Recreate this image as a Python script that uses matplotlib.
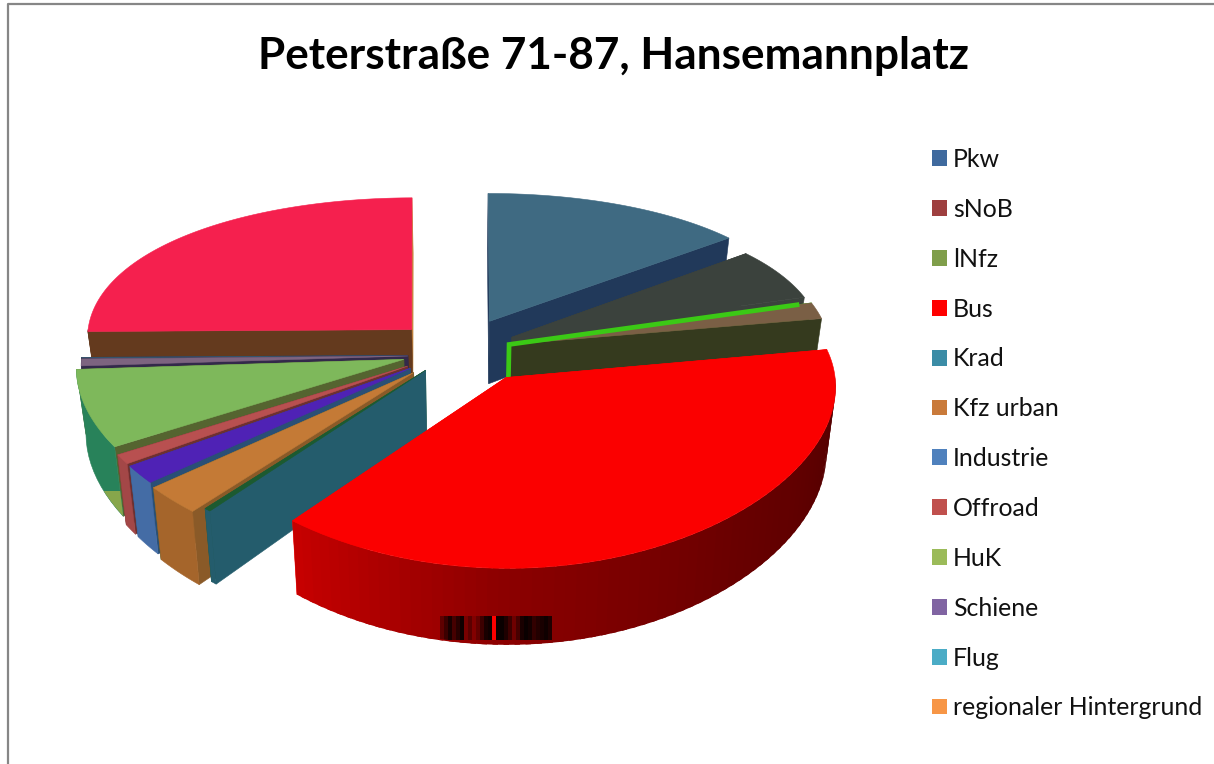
import numpy as np
import matplotlib
matplotlib.use('Agg')
import matplotlib.pyplot as plt
from matplotlib.colors import LinearSegmentedColormap
from matplotlib.patches import Patch, Polygon, Rectangle

plt.rcParams['font.family'] = ['Lato', 'DejaVu Sans']

title = 'Peterstraße 71-87, Hansemannplatz'
labels = ['Pkw', 'sNoB', 'lNfz', 'Bus', 'Krad', 'Kfz urban', 'Industrie',
          'Offroad', 'HuK', 'Schiene', 'Flug', 'regionaler Hintergrund']
values = [14.3, 6.1, 1.8, 38.6, 0.3, 2.7, 1.7, 0.9, 7.6, 0.7, 0.1, 25.1]
explode = [0.21, 0.18, 0.155, 0.215, 0.165, 0.2, 0.19, 0.19, 0.18, 0.16, 0.16, 0.2]

legend_colors = ['#3F6A9E', '#9E3F3F', '#7F9E4A', '#FF0000', '#3B8CA6', '#C97A3A',
                 '#4F81BD', '#C0504D', '#9BBB59', '#8064A2', '#4BACC6', '#F79646']
top_colors = ['#3F6A82', '#3B423D', '#7A5F45', '#FB0000', '#1C5A30', '#C47A36',
              '#4F22B5', '#B85050', '#7EB85B', '#7D6480', '#35566E', '#F5204E']
start_colors = ['#21395A', '#3B423D', '#3BC915', '#FB0000', '#245C6C', '#8A5A28',
                '#2A4F76', '#6E3030', '#556430', '#33294A', '#33294A', '#643A1E']
end_colors = ['#21395A', '#3B423D', '#353A1E', '#FB0000', '#1C5A30', '#1C5A30',
              '#2A4F76', '#6E3030', '#556430', '#33294A', '#33294A', '#C98A3F']
rim_colors = ['#21395A', '#3B423D', '#353A1E', None, '#245C6C', '#A5652B',
              '#446CA5', '#A34747', '#28825A', '#33294A', '#33294A', '#643A1E']
draw_order = [11, 10, 9, 8, 7, 6, 5, 4, 0, 1, 2, 3]
bus_rim = LinearSegmentedColormap.from_list(
    'bus', [(0, '#520000'), (0.35, '#680000'), (0.7, '#8C0000'), (1, '#C80000')])
glitch_levels = [95, 60, 25, 70, 40, 15, 120, 90, 130, 100, 60, 25, 15, 255, 15, 10,
                 30, 60, 110, 70, 25, 10, 20, 50, 35, 25, 15, 30]

# small per slice corrections, the original perspective is not a clean one
radius = [0.98, 0.955, 0.985, 1, 1, 1, 1, 1, 1, 1, 1, 1]
shift_x = [0, 0, 0, 10, 0, 0, 0, 0, 0, 0, 0, -2]
shift_y = [0, 0, 0, -2, 0, 0, 0, 0, 1, 5, 5, 1]

CX, CY = 460, 350
A, B = 326, 155.5
K = 0.138
KX = 0.05
DEPTH = 64


def project(x, y, z=0.0, i=0):
    s = 1 / (1 + K * y)
    sx = 1 / (1 + KX * y)
    return (CX + shift_x[i] + A * x * sx * (1 - 0.025 * z),
            CY + shift_y[i] - B * y * s + DEPTH * z * s)


def edge(apex, theta, i, z=0.0):
    t = np.radians(theta)
    return project(apex[0] + radius[i] * np.sin(t), apex[1] + radius[i] * np.cos(t), z, i)


def rim_strip(apex, t0, t1, i):
    ts = np.linspace(t0, t1, 12)
    upper = [edge(apex, t, i) for t in ts]
    lower = [edge(apex, t, i, 1) for t in ts[::-1]]
    return upper + lower


fig = plt.figure(figsize=(12.14, 7.64), dpi=100)
ax = fig.add_axes([0, 0, 1, 1])

stops = np.cumsum([0] + values) * 3.6
for layer, i in enumerate(draw_order):
    t0, t1 = stops[i], stops[i + 1]
    mid = np.radians((t0 + t1) / 2)
    apex = (explode[i] * np.sin(mid), explode[i] * np.cos(mid))
    base = project(*apex, 0, i)
    base_low = project(*apex, 1, i)
    zo = 10 + layer * 10

    # on the left half the start wall faces the viewer, so it goes on top
    start_z, end_z = (zo + 1, zo) if t0 >= 180 else (zo, zo + 1)
    ax.add_patch(Polygon([base, edge(apex, t0, i), edge(apex, t0, i, 1), base_low],
                         fc=start_colors[i], ec=start_colors[i], lw=0.4, zorder=start_z))
    ax.add_patch(Polygon([base, edge(apex, t1, i), edge(apex, t1, i, 1), base_low],
                         fc=end_colors[i], ec=end_colors[i], lw=0.4, zorder=end_z))

    r0, r1 = max(t0, 90), min(t1, 270)
    if r1 > r0:
        if labels[i] == 'Bus':
            cuts = np.linspace(r0, r1, 70)
            step = cuts[1] - cuts[0]
            for a in cuts[:-1]:
                c = bus_rim((a - r0) / (r1 - r0))
                ax.add_patch(Polygon(rim_strip(apex, a, min(a + step * 1.5, r1), i),
                                     fc=c, ec='none', zorder=zo + 2))
            bus_outline = Polygon(rim_strip(apex, r0, r1, i), fc='none', ec='none', transform=ax.transData)
            ax.add_patch(bus_outline)
            img = np.zeros((1, len(glitch_levels), 3))
            img[0, :, 0] = np.array(glitch_levels) / 255
            im = ax.imshow(img, extent=(440, 552, 640, 616), aspect='auto',
                           interpolation='nearest', zorder=zo + 3)
            im.set_clip_path(bus_outline)
        else:
            rim = Polygon(rim_strip(apex, r0, r1, i), fc=rim_colors[i], ec=rim_colors[i],
                          lw=0.4, zorder=zo + 2)
            ax.add_patch(rim)
            if labels[i] == 'HuK':
                # lower part of this rim is drawn in another green in the original
                low = Rectangle((60, 491), 80, 60, fc='#87A64B', ec='none', zorder=zo + 3)
                ax.add_patch(low)
                low.set_clip_path(rim)

    ts = np.linspace(t0, t1, max(int(t1 - t0) * 2, 4))
    ax.add_patch(Polygon([base] + [edge(apex, t, i) for t in ts], fc=top_colors[i],
                         ec=top_colors[i], lw=0.4, zorder=zo + 4))
    if labels[i] == 'lNfz':
        # bright edge of this slice, stops a bit short of the rim
        p = edge(apex, t0, i)
        tip = (base[0] + 0.96 * (p[0] - base[0]), base[1] + 0.96 * (p[1] - base[1]))
        ax.plot([tip[0], base[0], base_low[0]], [tip[1], base[1], base_low[1]],
                color=start_colors[i], lw=3.4, solid_joinstyle='miter',
                solid_capstyle='butt', zorder=zo + 5)

ax.plot([8, 8, 1214], [764, 4, 4], color='#868686', lw=1.6, zorder=1)

ax.text(613.5, 56, title, fontsize=31.8, fontweight='bold', color='black',
        ha='center', va='center')

handles = [Patch(fc=c, ec='none') for c in legend_colors]
ax.legend(handles, labels, loc='upper left', bbox_to_anchor=(932 / 1214, 1 - 148 / 764),
          frameon=False, fontsize=17.9, labelspacing=1.08, borderpad=0, borderaxespad=0,
          handlelength=0.6, handleheight=0.6, handletextpad=0.25, labelcolor='#111111')

ax.set_xlim(0, 1214)
ax.set_ylim(764, 0)
ax.axis('off')
fig.savefig('out.png', dpi=100, facecolor='white')
